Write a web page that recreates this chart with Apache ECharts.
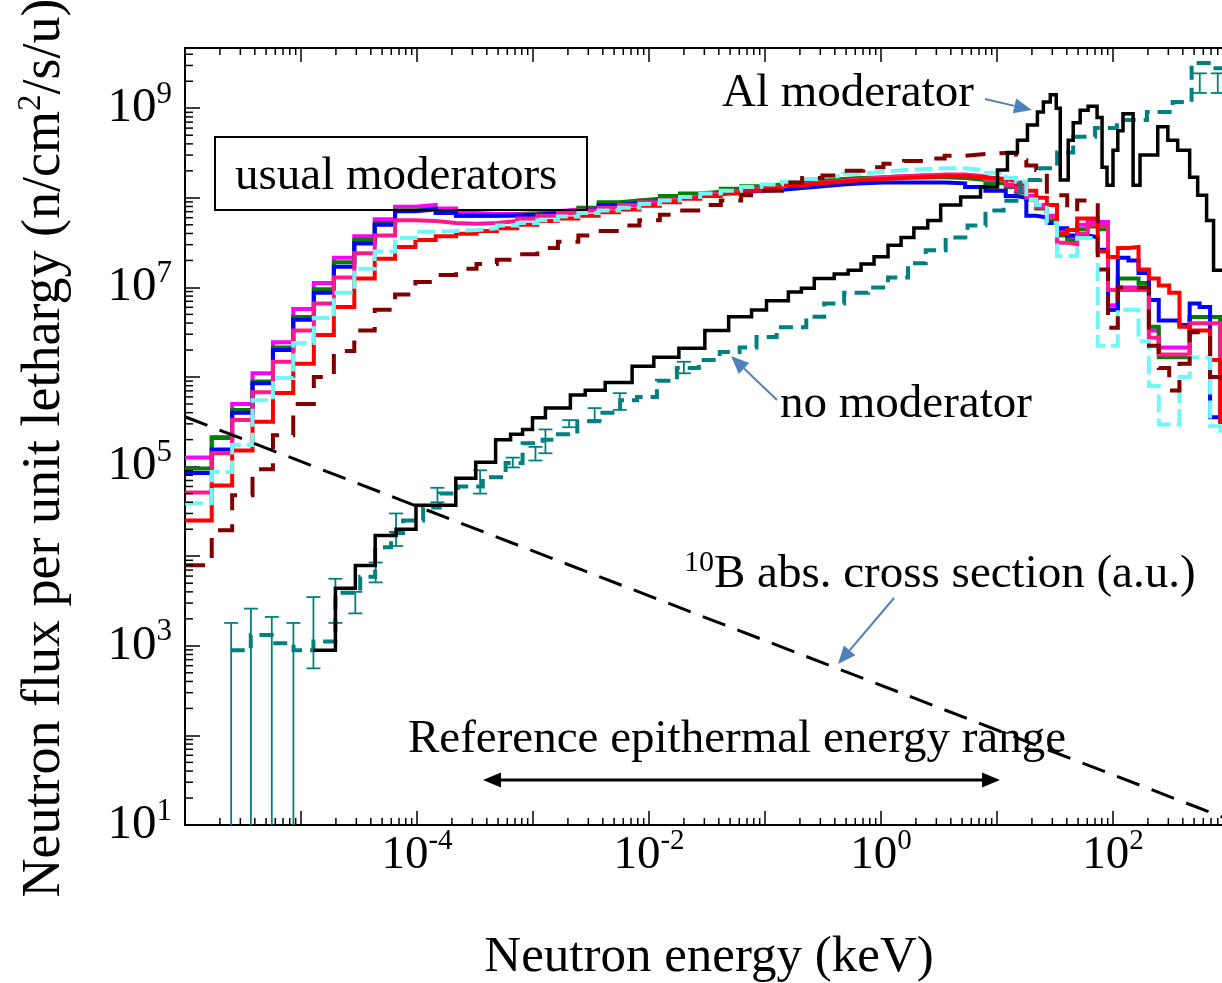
<!DOCTYPE html>
<html>
<head>
<meta charset="utf-8">
<script src="https://cdn.jsdelivr.net/npm/echarts@6/dist/echarts.min.js"></script>
<style>
  html, body { margin: 0; padding: 0; overflow: hidden; background: #fff; }
  #chart { width: 1240px; height: 983px; }
</style>
</head>
<body>
<div id="chart"></div>
<script>
// bin edges (keV) shared by the "usual moderators" histograms
const binEdges = [1e-6, 1.70e-6, 2.55e-6, 3.82e-6, 5.73e-6, 8.57e-6, 1.29e-5, 1.92e-5, 2.88e-5, 4.32e-5,
  6.47e-5, 9.69e-5, 1.45e-4, 2.17e-4, 3.26e-4, 4.88e-4, 7.31e-4, 1.09e-3, 1.64e-3, 2.46e-3,
  3.68e-3, 5.51e-3, 8.26e-3, 1.24e-2, 1.85e-2, 2.77e-2, 4.16e-2, 6.22e-2, 9.33e-2, 0.140,
  0.209, 0.313, 0.470, 0.703, 1.05, 1.58, 2.36, 3.54, 5.31, 7.94,
  11.9, 14.6, 17.9, 21.8, 26.9, 32.9, 40.3, 49.1, 60.4, 73.9,
  90.6, 110, 136, 166, 204, 248, 305, 374, 458, 558,
  687, 841, 1000];

const magentaFlux = [1.26e5, 2.14e5, 5.01e5, 1.10e6, 2.45e6, 5.75e6, 1.12e7, 2.14e7, 3.72e7, 5.75e7,
  7.94e7, 8.32e7, 7.59e7, 6.76e7, 6.61e7, 6.61e7, 6.76e7, 7.08e7, 7.41e7, 7.76e7,
  8.13e7, 8.71e7, 9.33e7, 9.77e7, 1.05e8, 1.12e8, 1.20e8, 1.29e8, 1.35e8, 1.45e8,
  1.51e8, 1.58e8, 1.66e8, 1.70e8, 1.74e8, 1.78e8, 1.78e8, 1.78e8, 1.70e8, 1.58e8,
  1.41e8, 1.26e8, 1.05e8, 8.32e7, 6.31e7, 4.17e7, 3.55e7, 5.01e7, 5.37e7, 5.37e7,
  6.31e6, 1.0e7, 1.0e7, 1.0e7, 3.31e6, 2.14e6, 2.14e6, 2.14e6, 4.68e6, 4.68e6,
  4.68e6, 3.98e5];
const greenFlux = [9.55e4, 2.09e5, 4.27e5, 8.91e5, 2.14e6, 4.68e6, 9.55e6, 1.91e7, 3.39e7, 5.25e7,
  7.24e7, 7.59e7, 6.92e7, 6.31e7, 6.31e7, 6.46e7, 6.61e7, 6.92e7, 7.24e7, 7.76e7,
  8.91e7, 9.33e7, 9.77e7, 1.05e8, 1.12e8, 1.17e8, 1.26e8, 1.35e8, 1.41e8, 1.48e8,
  1.55e8, 1.62e8, 1.66e8, 1.66e8, 1.70e8, 1.70e8, 1.70e8, 1.66e8, 1.58e8, 1.45e8,
  1.32e8, 1.15e8, 9.55e7, 7.59e7, 5.75e7, 3.80e7, 3.31e7, 4.47e7, 4.79e7, 4.47e7,
  5.62e6, 1.26e7, 1.26e7, 1.12e7, 3.63e6, 1.66e6, 1.66e6, 1.66e6, 4.68e6, 4.68e6,
  4.68e6, 3.98e5];
const blueFlux = [8.51e4, 1.55e5, 3.98e5, 8.51e5, 2.00e6, 4.37e6, 8.71e6, 1.70e7, 3.09e7, 5.01e7,
  7.08e7, 7.41e7, 6.76e7, 6.31e7, 6.31e7, 6.31e7, 6.46e7, 6.76e7, 7.08e7, 7.41e7,
  8.32e7, 8.71e7, 9.12e7, 9.55e7, 1.02e8, 1.10e8, 1.15e8, 1.20e8, 1.23e8, 1.29e8,
  1.35e8, 1.41e8, 1.45e8, 1.48e8, 1.48e8, 1.48e8, 1.48e8, 1.45e8, 1.32e8, 1.20e8,
  1.05e8, 1.0e8, 6.31e7, 6.03e7, 5.25e7, 4.57e7, 3.80e7, 3.80e7, 3.63e7, 2.63e7,
  5.62e6, 2.14e7, 2.0e7, 1.45e7, 7.24e6, 4.27e6, 4.27e6, 3.80e6, 6.61e6, 6.03e6,
  3.55e5, 3.16e5];
const pinkFlux = [5.13e4, 1.41e5, 3.31e5, 6.76e5, 1.48e6, 3.31e6, 6.61e6, 1.29e7, 2.40e7, 3.80e7,
  5.62e7, 5.50e7, 5.25e7, 5.13e7, 5.25e7, 5.50e7, 5.89e7, 6.31e7, 6.76e7, 7.24e7,
  7.76e7, 8.32e7, 8.91e7, 9.55e7, 1.02e8, 1.10e8, 1.17e8, 1.26e8, 1.32e8, 1.41e8,
  1.48e8, 1.55e8, 1.62e8, 1.70e8, 1.74e8, 1.78e8, 1.82e8, 1.82e8, 1.74e8, 1.58e8,
  1.38e8, 1.20e8, 1.0e8, 7.94e7, 6.03e7, 3.16e7, 3.02e7, 3.98e7, 5.01e7, 4.79e7,
  9.33e6, 9.33e6, 9.33e6, 9.33e6, 2.75e6, 1.78e6, 1.78e6, 1.78e6, 3.98e6, 3.98e6,
  3.98e6, 3.98e5];
const redFlux = [2.51e4, 6.17e4, 1.51e5, 3.16e5, 6.61e5, 1.41e6, 2.95e6, 6.03e6, 1.26e7, 2.09e7,
  2.82e7, 3.39e7, 3.72e7, 3.98e7, 4.27e7, 4.57e7, 5.01e7, 5.50e7, 5.89e7, 6.31e7,
  6.92e7, 7.41e7, 8.13e7, 8.91e7, 9.77e7, 1.05e8, 1.12e8, 1.20e8, 1.29e8, 1.38e8,
  1.45e8, 1.51e8, 1.58e8, 1.62e8, 1.66e8, 1.70e8, 1.74e8, 1.74e8, 1.70e8, 1.62e8,
  1.55e8, 1.41e8, 1.20e8, 1.0e8, 8.32e7, 3.98e7, 4.37e7, 5.89e7, 5.89e7, 2.51e7,
  2.19e7, 2.75e7, 2.82e7, 1.58e7, 1.26e7, 1.05e7, 8.71e6, 3.63e6, 3.31e6, 3.31e6,
  1.55e6, 3.16e5];
const cyanFlux = [3.89e4, 8.71e4, 1.74e5, 5.50e5, 9.77e5, 2.40e6, 4.57e6, 8.71e6, 1.62e7, 2.51e7,
  3.55e7, 4.17e7, 4.27e7, 4.37e7, 4.57e7, 4.90e7, 5.25e7, 5.62e7, 6.17e7, 6.76e7,
  7.24e7, 7.76e7, 8.51e7, 9.33e7, 1.02e8, 1.12e8, 1.20e8, 1.32e8, 1.41e8, 1.51e8,
  1.62e8, 1.74e8, 1.86e8, 1.95e8, 2.04e8, 2.09e8, 2.14e8, 2.14e8, 2.04e8, 1.91e8,
  1.66e8, 1.51e8, 9.55e7, 8.32e7, 5.25e7, 2.24e7, 2.24e7, 3.55e7, 3.55e7, 2.24e6,
  2.24e6, 5.62e6, 5.62e6, 2.51e6, 7.94e5, 2.95e5, 2.95e5, 1.0e6, 1.66e6, 1.66e6,
  2.82e5, 2.51e5];
const darkRedFlux = [7.94e3, 1.95e4, 4.79e4, 9.33e4, 2.24e5, 5.01e5, 1.0e6, 1.95e6, 3.31e6, 5.62e6,
  8.32e6, 1.15e7, 1.38e7, 1.62e7, 1.82e7, 2.04e7, 2.34e7, 2.75e7, 3.24e7, 3.80e7,
  4.27e7, 4.90e7, 5.62e7, 6.46e7, 7.24e7, 8.32e7, 9.33e7, 1.07e8, 1.20e8, 1.48e8,
  1.66e8, 1.78e8, 2.0e8, 2.19e8, 2.40e8, 2.57e8, 2.75e8, 2.95e8, 3.09e8, 3.16e8,
  3.16e8, 2.63e8, 2.29e8, 2.04e8, 1.07e8, 1.07e8, 7.08e7, 9.33e7, 9.33e7, 1.58e7,
  3.55e6, 1.0e7, 1.0e7, 1.0e7, 2.24e6, 1.26e6, 7.08e5, 1.41e6, 3.16e6, 3.16e6,
  1.0e6, 7.94e5];

// Al moderator (black): bin edges and flux
const alEdges = [1.28e-5, 1.98e-5, 2.94e-5, 4.36e-5, 6.6e-5, 9.8e-5, 2.16e-4, 3.21e-4, 4.76e-4, 6.41e-4,
  8.13e-4, 9.9e-4, 1.28e-3, 2.10e-3, 2.82e-3, 4.19e-3, 7.15e-3, 1.10e-2, 1.81e-2, 3.03e-2,
  4.86e-2, 7.66e-2, 0.103, 0.159, 0.206, 0.266, 0.395, 0.521, 0.673, 0.871,
  1.15, 1.49, 1.92, 2.53, 3.27, 4.86, 7.21, 10.1, 12.3, 15.0,
  18.3, 22.3, 25.1, 28.8, 32.4, 35.1, 41.1, 45.4, 52.1, 61.0,
  72.9, 80.5, 88.8, 100, 110, 122, 149, 171, 243, 297,
  361, 458, 537, 641, 736, 1000];
const alFlux = [8.9e2, 4.4e3, 7.9e3, 1.7e4, 2.0e4, 3.7e4, 7.4e4, 1.12e5, 2.0e5, 2.3e5,
  2.6e5, 3.5e5, 4.5e5, 6.3e5, 7.1e5, 8.7e5, 1.32e6, 1.66e6, 2.1e6, 3.3e6,
  4.7e6, 5.6e6, 7.1e6, 8.9e6, 9.8e6, 1.26e7, 1.41e7, 1.55e7, 1.82e7, 2.2e7,
  2.95e7, 3.6e7, 4.6e7, 5.6e7, 8.3e7, 1.02e8, 1.32e8, 2.04e8, 3.2e8, 4.4e8,
  6.5e8, 9.1e8, 1.17e9, 1.41e9, 1.0e9, 1.58e8, 4.4e8, 6.9e8, 9.5e8, 1.05e9,
  7.9e8, 2.2e8, 1.38e8, 3.4e8, 5.6e8, 8.7e8, 1.38e8, 3.0e8, 6.2e8, 4.4e8,
  3.4e8, 1.7e8, 1.07e8, 5.6e7, 1.55e7];

// no moderator (teal): bin edges and flux
const noModEdges = [2.48e-6, 3.69e-6, 5.59e-6, 8.63e-6, 1.28e-5, 1.98e-5, 3.24e-5, 4.36e-5, 5.98e-5, 7.59e-5,
  1.13e-4, 1.57e-4, 2.25e-4, 3.69e-4, 5.81e-4, 8.13e-4, 1.21e-3, 1.56e-3, 2.41e-3, 3.72e-3,
  5.64e-3, 7.89e-3, 1.17e-2, 1.74e-2, 2.69e-2, 4.07e-2, 6.04e-2, 8.45e-2, 0.126, 0.227,
  0.324, 0.481, 0.773, 1.15, 1.71, 2.43, 3.61, 5.58, 7.96, 11.4,
  15.9, 23.6, 33.0, 45.4, 70.0, 108, 196, 327, 476, 707, 1000];
const noModFlux = [890, 1.32e3, 1.07e3, 890, 1.12e3, 3.9e3, 5.9e3, 1.26e4, 1.82e4, 2.5e4,
  3.5e4, 5.0e4, 6.0e4, 7.6e4, 1.1e5, 1.82e5, 2.0e5, 2.3e5, 3.2e5, 4.0e5,
  5.5e5, 6.0e5, 9.1e5, 1.26e6, 1.55e6, 1.9e6, 2.14e6, 2.8e6, 3.6e6, 4.7e6,
  6.6e6, 8.7e6, 1.0e7, 1.29e7, 1.86e7, 2.6e7, 3.6e7, 4.9e7, 7.2e7, 9.3e7,
  1.58e8, 2.14e8, 3.2e8, 4.8e8, 6.0e8, 7.4e8, 9.1e8, 1.17e9, 3.2e9, 2.8e9];
const noModErrE = [2.5e-6, 3.7e-6, 5.6e-6, 8.6e-6, 1.28e-5, 1.98e-5, 2.94e-5, 4.4e-5, 6.6e-5, 1.5e-4,
  3.5e-4, 6.7e-4, 1.05e-3, 1.28e-3, 2.05e-3, 3.4e-3, 5.6e-3, 2.0e-2, 560, 800];
const noModErrLo = [10, 10, 10, 10, 5.6e2, 1.8e3, 2.3e3, 5.1e3, 1.3e4, 4.0e4,
  5.0e4, 9.8e4, 1.17e5, 1.41e5, 2.75e5, 3.3e5, 4.3e5, 1.1e6, 1.48e9, 1.48e9];
const noModErrHi = [1.8e3, 2.6e3, 2.1e3, 1.8e3, 3.5e3, 5.6e3, 4.0e3, 8.5e3, 3.0e4, 5.8e4,
  9.1e4, 1.26e5, 1.66e5, 2.6e5, 3.3e5, 4.5e5, 6.6e5, 1.48e6, 2.45e9, 2.45e9];

// 10B absorption cross section, 1/v line (arbitrary units)
const boronE = [1e-6, 1000];
const boronXs = [3.6e5, 11.5];

const xLabelExps = [-4, -2, 0, 2];
const yLabelExps = [1, 3, 5, 7, 9];

const FONT = 'Liberation Serif';
const X_MIN = 1e-6, X_MAX = 1e3, Y_MIN = 10, Y_MAX = 4.7e9;

function histogram(edges, values) {
  const pts = values.map((v, i) => [edges[i], v]);
  pts.push([edges[values.length], values[values.length - 1]]);
  return pts;
}

function stepSeries(name, edges, values, color, width, dash, z) {
  return {
    name, type: 'line', step: 'end', data: histogram(edges, values),
    showSymbol: false, symbol: 'none', animation: false, z,
    lineStyle: { color, width, type: dash || 'solid', cap: 'butt', join: 'miter' }
  };
}

function powLabel(value, keep) {
  const lg = Math.log10(value);
  const e = Math.round(lg);
  if (Math.abs(lg - e) > 1e-6 || keep.indexOf(e) < 0) return '';
  return '{b|10}{s|' + e + '}';
}

function minorValues(e0, e1, max) {
  const out = [];
  for (let e = e0; e < e1; e++) {
    for (let m = 2; m <= 9; m++) {
      const v = m * Math.pow(10, e);
      if (v < max) out.push(v);
    }
  }
  return out;
}

// log-style minor ticks (2..9 per decade) placed through the axes' own scales
function tickSeries(values, side) {
  return {
    type: 'custom', silent: true, animation: false, z: 8,
    data: values.map(v => side === 'left' ? [X_MIN, v] : [v, Y_MIN]),
    renderItem(params, api) {
      const style = { stroke: '#000', lineWidth: 1.5 };
      if (side === 'left') {
        const p = api.coord([X_MIN, api.value(1)]);
        return { type: 'line', shape: { x1: p[0], y1: p[1], x2: p[0] + 8, y2: p[1] }, style };
      }
      const b = api.coord([api.value(0), Y_MIN]);
      const t = api.coord([api.value(0), Y_MAX]);
      return {
        type: 'group', children: [
          { type: 'line', shape: { x1: b[0], y1: b[1], x2: b[0], y2: b[1] - 7 }, style },
          { type: 'line', shape: { x1: t[0], y1: t[1], x2: t[0], y2: t[1] + 7 }, style }
        ]
      };
    }
  };
}

function arrow(x1, y1, x2, y2, color, width, head) {
  const a = Math.atan2(y2 - y1, x2 - x1);
  const hx = x2 - head * Math.cos(a), hy = y2 - head * Math.sin(a);
  const w = head * 0.42;
  return [
    { type: 'line', z: 20, shape: { x1, y1, x2: hx, y2: hy }, style: { stroke: color, lineWidth: width } },
    { type: 'polygon', z: 20, shape: { points: [[x2, y2], [hx + w * Math.sin(a), hy - w * Math.cos(a)], [hx - w * Math.sin(a), hy + w * Math.cos(a)]] }, style: { fill: color } }
  ];
}

function label(text, x, y, size, extra) {
  return Object.assign({
    type: 'text', z: 20, x, y,
    style: { text, fontFamily: FONT, fontSize: size, fill: '#000', align: 'left', verticalAlign: 'middle' }
  }, extra || {});
}

const ARROW_BLUE = '#4f81bd';
const TEAL = '#008080';

const axisCommon = {
  type: 'log', logBase: 10, splitNumber: 10,
  axisLine: { show: true, onZero: false, lineStyle: { color: '#000', width: 2 } },
  axisTick: { show: true, inside: true, length: 14, lineStyle: { color: '#000', width: 1.5 } },
  splitLine: { show: false }, minorTick: { show: false }
};

const chart = echarts.init(document.getElementById('chart'));
chart.setOption({
  animation: false,
  backgroundColor: '#fff',
  grid: { left: 185, top: 48, right: 11, bottom: 158, containLabel: false },
  xAxis: [
    Object.assign({}, axisCommon, {
      min: X_MIN, max: X_MAX, position: 'bottom',
      axisLabel: {
        margin: 2, formatter: v => powLabel(v, xLabelExps),
        rich: {
          b: { fontFamily: FONT, fontSize: 47, color: '#000', lineHeight: 58 },
          s: { fontFamily: FONT, fontSize: 29, color: '#000', lineHeight: 22, verticalAlign: 'top' }
        }
      }
    }),
    Object.assign({}, axisCommon, {
      min: X_MIN, max: X_MAX, position: 'top', axisLabel: { show: false }
    })
  ],
  yAxis: [
    Object.assign({}, axisCommon, {
      min: Y_MIN, max: Y_MAX, position: 'left',
      axisTick: { show: true, inside: true, length: 15, lineStyle: { color: '#000', width: 1.5 } },
      axisLabel: {
        margin: 13, formatter: v => powLabel(v, yLabelExps),
        rich: {
          b: { fontFamily: FONT, fontSize: 49, color: '#000', lineHeight: 58 },
          s: { fontFamily: FONT, fontSize: 31, color: '#000', lineHeight: 22, verticalAlign: 'top' }
        }
      }
    })
  ],
  series: [
    stepSeries('magenta', binEdges, magentaFlux, '#ff00ff', 4, 'solid', 2),
    stepSeries('green', binEdges, greenFlux, '#008000', 4, 'solid', 2),
    stepSeries('blue', binEdges, blueFlux, '#0000ff', 4, 'solid', 2),
    stepSeries('pink', binEdges, pinkFlux, '#ff1a8c', 4, 'solid', 2),
    stepSeries('red', binEdges, redFlux, '#ff0000', 4, 'solid', 2),
    stepSeries('cyan', binEdges, cyanFlux, '#70f8f8', 4, [18, 6], 2),
    stepSeries('darkred', binEdges, darkRedFlux, '#800000', 4, [20, 14], 3),
    stepSeries('no moderator', noModEdges, noModFlux, TEAL, 4, [14, 8], 3),
    {
      name: 'no moderator errors', type: 'custom', silent: true, animation: false, z: 3,
      data: noModErrE.map((e, i) => [e, noModErrLo[i], noModErrHi[i]]),
      encode: { x: 0, y: [1, 2] },
      renderItem(params, api) {
        const lo = api.coord([api.value(0), api.value(1)]);
        const hi = api.coord([api.value(0), api.value(2)]);
        const style = { stroke: TEAL, lineWidth: 1.8 };
        const kids = [
          { type: 'line', shape: { x1: lo[0], y1: lo[1], x2: hi[0], y2: hi[1] }, style },
          { type: 'line', shape: { x1: hi[0] - 7, y1: hi[1], x2: hi[0] + 7, y2: hi[1] }, style }
        ];
        if (api.value(1) > Y_MIN) {
          kids.push({ type: 'line', shape: { x1: lo[0] - 7, y1: lo[1], x2: lo[0] + 7, y2: lo[1] }, style });
        }
        return { type: 'group', children: kids };
      }
    },
    stepSeries('Al moderator', alEdges, alFlux, '#000000', 3.5, 'solid', 4),
    {
      name: '10B', type: 'line', data: boronE.map((e, i) => [e, boronXs[i]]),
      showSymbol: false, symbol: 'none', animation: false, z: 5,
      lineStyle: { color: '#000', width: 3, type: [24, 13] }
    },
    tickSeries(minorValues(-6, 3, X_MAX), 'x'),
    tickSeries(minorValues(1, 10, Y_MAX), 'left')
  ],
  graphic: [
    { type: 'rect', z: 20, shape: { x: 215, y: 137, width: 372, height: 73 }, style: { fill: 'none', stroke: '#000', lineWidth: 2 } },
    label('usual moderators', 235, 177, 47),
    label('Al moderator', 722, 94, 47),
    label('no moderator', 780, 405, 47),
    label('Reference epithermal energy range', 408, 740, 47),
    {
      type: 'text', z: 20, x: 684, y: 575,
      style: {
        text: '{s|10}{b|B abs. cross section (a.u.)}', align: 'left', verticalAlign: 'middle',
        rich: {
          b: { fontFamily: FONT, fontSize: 47, fill: '#000', lineHeight: 54 },
          s: { fontFamily: FONT, fontSize: 30, fill: '#000', lineHeight: 24, verticalAlign: 'top' }
        }
      }
    },
    {
      type: 'text', z: 20, x: 709, y: 958,
      style: { text: 'Neutron energy (keV)', fontFamily: FONT, fontSize: 51, fill: '#000', align: 'center', verticalAlign: 'middle' }
    },
    {
      type: 'text', z: 20, x: 45, y: 448, rotation: Math.PI / 2,
      style: {
        text: '{b|Neutron flux per unit lethargy (n/cm}{s|2}{b|/s/u)}', align: 'center', verticalAlign: 'middle',
        rich: {
          b: { fontFamily: FONT, fontSize: 54, fill: '#000', lineHeight: 60 },
          s: { fontFamily: FONT, fontSize: 33, fill: '#000', lineHeight: 26, verticalAlign: 'top' }
        }
      }
    },
    ...arrow(985, 99, 1032, 110, ARROW_BLUE, 2, 18),
    ...arrow(777, 400, 731, 356, ARROW_BLUE, 2, 18),
    ...arrow(894, 598, 838, 664, ARROW_BLUE, 2, 18),
    ...arrow(740, 780, 483, 780, '#000', 3, 18),
    ...arrow(740, 780, 1000, 780, '#000', 3, 18)
  ]
});
</script>
</body>
</html>
